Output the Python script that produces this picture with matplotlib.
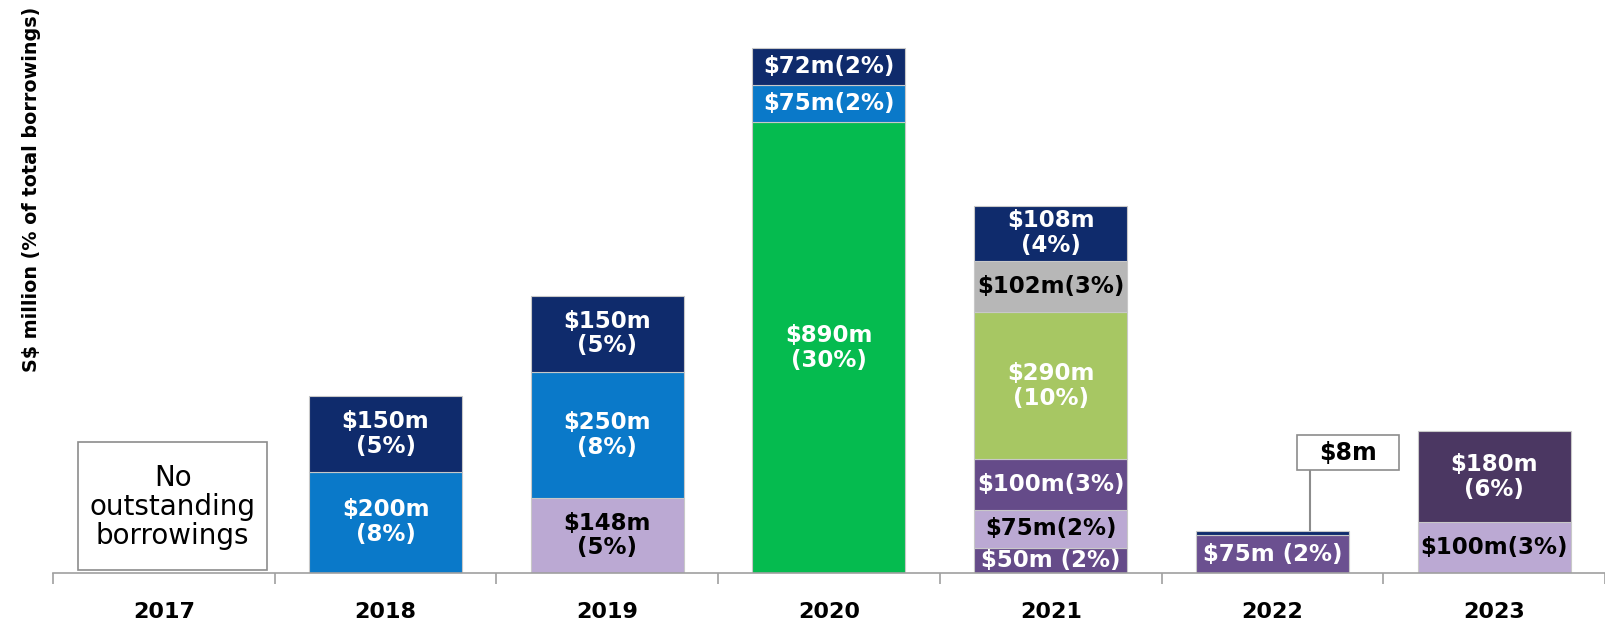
import matplotlib
matplotlib.use('Agg')
import matplotlib.pyplot as plt
from matplotlib.patches import Rectangle

# data: each year is a stack from bottom to top
years = ['2017', '2018', '2019', '2020', '2021', '2022', '2023']

vals_2018 = [200, 150]
vals_2019 = [148, 250, 150]
vals_2020 = [890, 75, 72]
vals_2021 = [50, 75, 100, 290, 102, 108]
vals_2022 = [75, 8]
vals_2023 = [100, 180]

labels_2018 = ['$200m\n(8%)', '$150m\n(5%)']
labels_2019 = ['$148m\n(5%)', '$250m\n(8%)', '$150m\n(5%)']
labels_2020 = ['$890m\n(30%)', '$75m(2%)', '$72m(2%)']
labels_2021 = ['$50m (2%)', '$75m(2%)', '$100m(3%)', '$290m\n(10%)', '$102m(3%)', '$108m\n(4%)']
labels_2022 = ['$75m (2%)', '']
labels_2023 = ['$100m(3%)', '$180m\n(6%)']

NAVY = '#0F2B6C'
BLUE = '#0A79C9'
LPURP = '#BBA9D3'
GREEN = '#05BB4F'
OLIVE = '#A7C763'
GRAY = '#B7B7B7'
DPURP = '#654B89'
PURP22 = '#6B5090'
PURP23 = '#4B3762'

cols_2018 = [BLUE, NAVY]
cols_2019 = [LPURP, BLUE, NAVY]
cols_2020 = [GREEN, BLUE, NAVY]
cols_2021 = [DPURP, LPURP, DPURP, OLIVE, GRAY, NAVY]
cols_2022 = [PURP22, NAVY]
cols_2023 = [LPURP, PURP23]

stacks = {
    1: (vals_2018, labels_2018, cols_2018),
    2: (vals_2019, labels_2019, cols_2019),
    3: (vals_2020, labels_2020, cols_2020),
    4: (vals_2021, labels_2021, cols_2021),
    5: (vals_2022, labels_2022, cols_2022),
    6: (vals_2023, labels_2023, cols_2023),
}

dark_text_on = [LPURP, GRAY]

fig = plt.figure(figsize=(16.05, 6.2), dpi=100)
ax = fig.add_axes([0.033, 0.0758, 0.967, 0.9242])

bw = 0.69
for x, (vals, labs, cols) in stacks.items():
    bottom = 0
    for v, lab, c in zip(vals, labs, cols):
        ax.bar(x, v, bw, bottom=bottom, color=c, edgecolor='#c8c8c8', linewidth=0.8)
        if lab:
            tc = 'black' if c in dark_text_on else 'white'
            ax.text(x, bottom + v / 2, lab, ha='center', va='center', color=tc,
                    fontsize=16.5, fontweight='bold', linespacing=1.1)
        bottom += v

# 2017 box
ax.add_patch(Rectangle((-0.387, 6), 0.852, 253, facecolor='white', edgecolor='#8c8c8c',
                       linewidth=1.2))
ax.text(0.04, 130, 'No\noutstanding\nborrowings', ha='center', va='center', fontsize=20,
        linespacing=1.05)

# $8m callout for 2022
ax.vlines(5.17, sum(vals_2022), 203, color='#8c8c8c', linewidth=1.5)
ax.add_patch(Rectangle((5.11, 203), 0.46, 69, facecolor='white', edgecolor='#8c8c8c',
                       linewidth=1.2))
ax.text(5.34, 238, '$8m', ha='center', va='center', fontsize=17, fontweight='bold')

ax.set_xlim(-0.5, 6.5)
ax.set_ylim(0, 1132)
for s in ['top', 'right', 'left']:
    ax.spines[s].set_visible(False)
ax.spines['bottom'].set_color('#a0a0a0')
ax.spines['bottom'].set_linewidth(1.2)
ax.set_yticks([])
ax.set_xticks(range(len(years)))
ax.set_xticklabels(years, fontsize=16, fontweight='bold')
ax.tick_params(axis='x', which='major', length=0, pad=21)
ax.set_xticks([i - 0.5 for i in range(len(years) + 1)], minor=True)
ax.tick_params(axis='x', which='minor', length=8, color='#a0a0a0', width=1.2)

fig.text(0.0195, 0.6945, 'S$ million (% of total borrowings)', rotation=90, ha='center',
         va='center', fontsize=13.8, fontweight='bold')

fig.savefig('out.png', dpi=100)
